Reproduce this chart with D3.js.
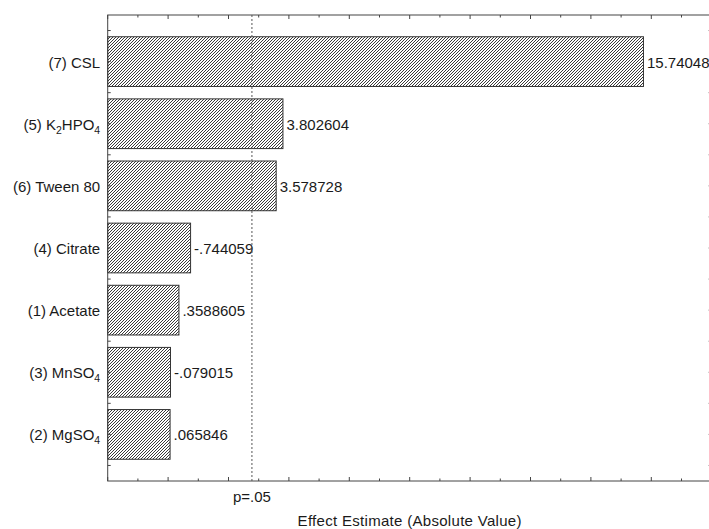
<!DOCTYPE html>
<html>
<head>
<meta charset="utf-8">
<script src="https://cdn.jsdelivr.net/npm/d3@7/dist/d3.min.js"></script>
<style>
  html, body { margin: 0; padding: 0; background: #fff; }
  svg { display: block; font-family: "Liberation Sans", Arial, sans-serif; }
</style>
</head>
<body>
<svg id="chart" width="709" height="529"></svg>
<script>
// Pareto chart of standardized effects; {n} marks a subscript in a factor name.
const factors = ["(7) CSL", "(5) K{2}HPO{4}", "(6) Tween 80", "(4) Citrate",
                 "(1) Acetate", "(3) MnSO{4}", "(2) MgSO{4}"];
const effects = [15.74048, 3.802604, 3.578728, -0.744059, 0.3588605, -0.079015, 0.065846];
const xDomain = [-2, 18];
const xMajorStep = 2;
const pCritical = 2.776;
const pLabel = "p=.05";
const xTitle = "Effect Estimate (Absolute Value)";

const svg = d3.select("#chart");
const plotL = 107.7, plotT = 15, plotR = 711.7, plotB = 481;
const ink = "#333";
const fontSize = 15;

const x = d3.scaleLinear().domain(xDomain).range([plotL, plotR]);
const y = d3.scaleBand().domain(factors).range([plotT, plotB])
  .paddingInner(0.2).paddingOuter(0.35);

// Diagonal hatch fill for the bars
const defs = svg.append("defs");
const pat = defs.append("pattern")
  .attr("id", "hatch").attr("patternUnits", "userSpaceOnUse")
  .attr("width", 3).attr("height", 3);
pat.append("rect").attr("width", 3).attr("height", 3).attr("fill", "#fff");
pat.append("path")
  .attr("d", "M-1,1 L1,-1 M0,3 L3,0 M2,4 L4,2")
  .attr("stroke", "#3a3a3a").attr("stroke-width", 1);

// Bars run from the left edge of the plot to |effect|
svg.append("g").selectAll("rect").data(factors).join("rect")
  .attr("x", plotL)
  .attr("y", d => y(d))
  .attr("width", (d, i) => x(Math.abs(effects[i])) - plotL)
  .attr("height", y.bandwidth())
  .attr("fill", "url(#hatch)")
  .attr("stroke", ink).attr("stroke-width", 1);

// Effect value next to each bar
const fmt = v => String(v).replace(/^(-?)0\./, "$1.");
svg.append("g").selectAll("text").data(factors).join("text")
  .attr("x", (d, i) => x(Math.abs(effects[i])) + 3.5)
  .attr("y", d => y(d) + y.bandwidth() / 2 + 6)
  .attr("font-size", fontSize).attr("fill", "#1a1a1a")
  .text((d, i) => fmt(effects[i]));

// Factor names with subscripts
const catLabels = svg.append("g").selectAll("text").data(factors).join("text")
  .attr("x", plotL - 7.5)
  .attr("y", d => y(d) + y.bandwidth() / 2 + 6)
  .attr("text-anchor", "end")
  .attr("font-size", fontSize).attr("fill", "#1a1a1a");
catLabels.each(function (d) {
  const t = d3.select(this);
  let shift = 0;
  d.split(/(\{\d+\})/).filter(s => s.length).forEach(s => {
    if (s[0] === "{") {
      t.append("tspan").attr("font-size", 10.5).attr("dy", 4 - shift).text(s.slice(1, -1));
      shift = 4;
    } else {
      t.append("tspan").attr("dy", -shift).text(s);
      shift = 0;
    }
  });
});

// Frame
const frame = svg.append("g").attr("stroke", "#444").attr("stroke-width", 1).attr("fill", "none");
frame.append("rect").attr("x", plotL).attr("y", plotT)
  .attr("width", plotR - plotL).attr("height", plotB - plotT);

// Bottom and top ticks: major every 2 units, minor in between
const xTicks = d3.range(xDomain[0], xDomain[1] + 0.001, 1);
const tickLen = v => (v % xMajorStep === 0 ? 4 : 2.5);
frame.append("g").selectAll("line").data(xTicks).join("line")
  .attr("x1", d => x(d)).attr("x2", d => x(d))
  .attr("y1", plotB).attr("y2", d => plotB - tickLen(d));
frame.append("g").selectAll("line").data(xTicks).join("line")
  .attr("x1", d => x(d)).attr("x2", d => x(d))
  .attr("y1", plotT).attr("y2", d => plotT + tickLen(d));

// Left and right ticks at band centres and band boundaries
const yTicks = [];
factors.forEach(f => {
  const c = y(f) + y.bandwidth() / 2;
  yTicks.push(c - y.step() / 2, c);
});
yTicks.push(y(factors[factors.length - 1]) + y.bandwidth() / 2 + y.step() / 2);
frame.append("g").selectAll("line").data(yTicks).join("line")
  .attr("x1", plotL).attr("x2", plotL + 3).attr("y1", d => d).attr("y2", d => d);
frame.append("g").selectAll("line").data(yTicks).join("line")
  .attr("x1", plotR).attr("x2", plotR - 3).attr("y1", d => d).attr("y2", d => d);

// Significance threshold
svg.append("line")
  .attr("x1", x(pCritical)).attr("x2", x(pCritical))
  .attr("y1", plotT).attr("y2", plotB)
  .attr("stroke", "#555").attr("stroke-width", 1).attr("stroke-dasharray", "2,2");
svg.append("text")
  .attr("x", x(pCritical)).attr("y", 501.5)
  .attr("text-anchor", "middle").attr("font-size", fontSize).attr("fill", "#1a1a1a")
  .text(pLabel);

// Axis title
svg.append("text")
  .attr("x", (plotL + plotR) / 2).attr("y", 525.5)
  .attr("text-anchor", "middle").attr("font-size", fontSize).attr("fill", "#1a1a1a")
  .attr("letter-spacing", 0.3)
  .text(xTitle);
</script>
</body>
</html>
